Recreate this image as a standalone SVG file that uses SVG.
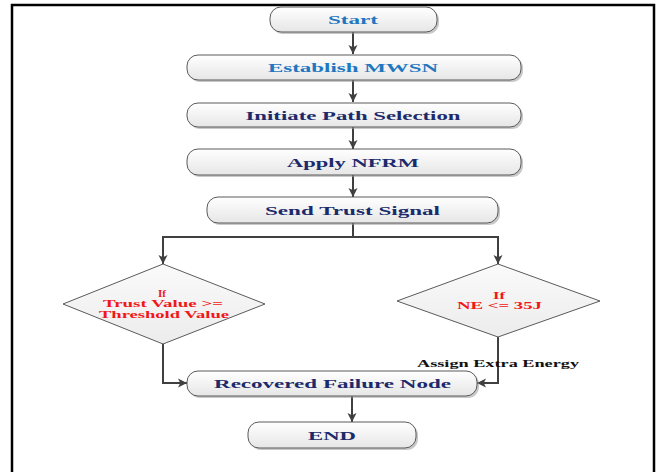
<svg xmlns="http://www.w3.org/2000/svg" width="657" height="472" viewBox="0 0 657 472">
<style>
.box{fill:url(#gBox);stroke:#5a5a5a;stroke-width:1}
.shd{fill:#9a9a9a;opacity:0.55}
.dia{fill:url(#gDia);stroke:#5a5a5a;stroke-width:1}
.t{font-family:"Liberation Serif","Times New Roman",serif;font-weight:bold;font-size:13.5px;text-anchor:middle}
.blue{fill:#1f77c0}
.navy{fill:#1b2a6b}
.red{fill:#f01818;font-size:9.5px}
.lbl{fill:#111;font-size:11px}
.con{fill:none;stroke:#404040;stroke-width:2}
</style>
<defs>
<linearGradient id="gBox" x1="0" y1="0" x2="0" y2="1">
<stop offset="0" stop-color="#ffffff"/>
<stop offset="1" stop-color="#e6e6e6"/>
</linearGradient>
<linearGradient id="gDia" x1="0" y1="0" x2="0" y2="1">
<stop offset="0" stop-color="#fafafa"/>
<stop offset="1" stop-color="#ececec"/>
</linearGradient>
<marker id="arr" viewBox="0 0 10 10" refX="10" refY="5" markerWidth="9" markerHeight="12" orient="auto" markerUnits="userSpaceOnUse">
<path d="M0,0 L10,5 L0,10 L2.5,5 z" fill="#404040"/>
</marker>
</defs>
<rect width="657" height="472" fill="#ffffff"/>
<path d="M12,472 V5 H654 V472" fill="none" stroke="#000" stroke-width="2.5"/>
<g id="connectors">
<path class="con" d="M353,32 V54" marker-end="url(#arr)"/>
<path class="con" d="M353,80 V102" marker-end="url(#arr)"/>
<path class="con" d="M353,127 V149" marker-end="url(#arr)"/>
<path class="con" d="M353,175 V197" marker-end="url(#arr)"/>
<path class="con" d="M353,223 V237 H163 V264" marker-end="url(#arr)"/>
<path class="con" d="M353,237 H498 V264" marker-end="url(#arr)"/>
<path class="con" d="M163,343 V383 H187" marker-end="url(#arr)"/>
<path class="con" d="M498,337 V383 H477" marker-end="url(#arr)"/>
<path class="con" d="M352,396 V422" marker-end="url(#arr)"/>
</g>
<g id="start">
<rect class="shd" x="272" y="9" width="167" height="25" rx="11"/>
<rect class="box" x="270" y="7" width="167" height="25" rx="11"/>
<text class="t blue" x="353" y="24" textLength="50" lengthAdjust="spacingAndGlyphs">Start</text>
</g>
<g id="establish">
<rect class="shd" x="189" y="57" width="334" height="25" rx="11"/>
<rect class="box" x="187" y="55" width="334" height="25" rx="11"/>
<text class="t blue" x="353" y="72" textLength="170" lengthAdjust="spacingAndGlyphs">Establish MWSN</text>
</g>
<g id="initiate">
<rect class="shd" x="189" y="105" width="334" height="24" rx="11"/>
<rect class="box" x="187" y="103" width="334" height="24" rx="11"/>
<text class="t navy" x="353" y="119.5" textLength="215" lengthAdjust="spacingAndGlyphs">Initiate Path Selection</text>
</g>
<g id="apply">
<rect class="shd" x="189" y="151" width="334" height="26" rx="11"/>
<rect class="box" x="187" y="149" width="334" height="26" rx="11"/>
<text class="t navy" x="353" y="166.5" textLength="132" lengthAdjust="spacingAndGlyphs">Apply NFRM</text>
</g>
<g id="send">
<rect class="shd" x="209" y="199" width="291" height="26" rx="11"/>
<rect class="box" x="207" y="197" width="291" height="26" rx="11"/>
<text class="t navy" x="352.5" y="214.5" textLength="175" lengthAdjust="spacingAndGlyphs">Send Trust Signal</text>
</g>
<g id="decision-trust">
<polygon class="dia" points="163,264 265,304 163,344 63,304"/>
<text class="t red" x="162" y="296.5" textLength="8" lengthAdjust="spacingAndGlyphs">If</text>
<text class="t red" x="163" y="307" textLength="120" lengthAdjust="spacingAndGlyphs">Trust Value &gt;=</text>
<text class="t red" x="164" y="317.5" textLength="130" lengthAdjust="spacingAndGlyphs">Threshold Value</text>
</g>
<g id="decision-energy">
<polygon class="dia" points="498,264 600,301 498,337 397,301"/>
<text class="t red" x="499" y="298.5" textLength="12" lengthAdjust="spacingAndGlyphs">If</text>
<text class="t red" x="499.5" y="309" textLength="85" lengthAdjust="spacingAndGlyphs">NE &lt;= 35J</text>
</g>
<g id="label-assign">
<text class="t lbl" x="498" y="367" textLength="162" lengthAdjust="spacingAndGlyphs">Assign Extra Energy</text>
</g>
<g id="recovered">
<rect class="shd" x="189" y="373" width="290" height="25" rx="11"/>
<rect class="box" x="187" y="371" width="290" height="25" rx="11"/>
<text class="t navy" x="332.5" y="388" textLength="237" lengthAdjust="spacingAndGlyphs">Recovered Failure Node</text>
</g>
<g id="end">
<rect class="shd" x="250" y="424" width="168" height="26" rx="11"/>
<rect class="box" x="248" y="422" width="168" height="26" rx="11"/>
<text class="t navy" x="332" y="439.5" textLength="48" lengthAdjust="spacingAndGlyphs">END</text>
</g>
</svg>
